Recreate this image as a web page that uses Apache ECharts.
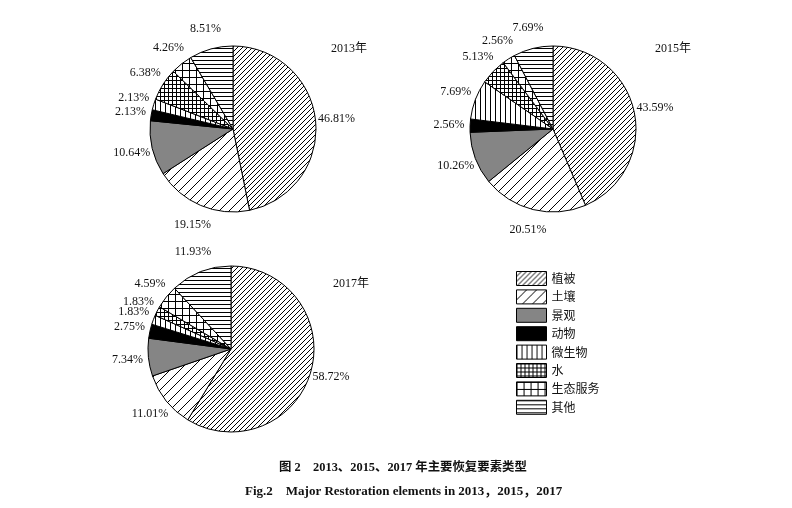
<!DOCTYPE html>
<html>
<head>
<meta charset="utf-8">
<script src="https://cdn.jsdelivr.net/npm/echarts@6/dist/echarts.min.js"></script>
<style>
  html, body { margin: 0; padding: 0; background: #fff; }
  #chart { width: 792px; height: 508px; }
</style>
</head>
<body>
<div id="chart"></div>
<script>
// Restoration element categories (clockwise from 12 o'clock)
const categories = ['植被', '土壤', '景观', '动物', '微生物', '水', '生态服务', '其他'];
// Share of each element, %
const values2013 = [46.81, 19.15, 10.64, 2.13, 2.13, 6.38, 4.26, 8.51];
const values2015 = [43.59, 20.51, 10.26, 2.56, 7.69, 5.13, 2.56, 7.69];
const values2017 = [58.72, 11.01, 7.34, 2.75, 1.83, 1.83, 4.59, 11.93];
const years = ['2013年', '2015年', '2017年'];

// ---- hatch fills drawn on small tiles ----
function tile(size, draw) {
  const c = document.createElement('canvas');
  c.width = size; c.height = size;
  const g = c.getContext('2d');
  g.fillStyle = '#fff';
  g.fillRect(0, 0, size, size);
  g.strokeStyle = '#000';
  g.lineWidth = 1;
  draw(g, size);
  return { image: c, repeat: 'repeat' };
}
function diag(g, s) {
  g.beginPath();
  g.moveTo(-1, s + 1); g.lineTo(s + 1, -1);
  g.moveTo(-1, 1); g.lineTo(1, -1);
  g.moveTo(s - 1, s + 1); g.lineTo(s + 1, s - 1);
  g.stroke();
}
function vert(g, s) {
  g.beginPath(); g.moveTo(0.5, 0); g.lineTo(0.5, s); g.stroke();
}
function horiz(g, s) {
  g.beginPath(); g.moveTo(0, 0.5); g.lineTo(s, 0.5); g.stroke();
}
function grid(g, s) { vert(g, s); horiz(g, s); }

const fills = [
  tile(5, diag),      // 植被
  tile(10, diag),     // 土壤
  '#858585',          // 景观
  '#000000',          // 动物
  tile(5, vert),      // 微生物
  tile(4, grid),      // 水
  tile(7, grid),      // 生态服务
  tile(4, horiz)      // 其他
];

const serif = '"Liberation Serif", "Times New Roman", "Noto Sans CJK SC", serif';
const centers = [[233, 129], [553, 129], [231, 349]];
const allValues = [values2013, values2015, values2017];
const pieRadius = 83;
const labelRadius = 101;

const series = [];
allValues.forEach((vals, k) => {
  // the pie itself
  series.push({
    type: 'pie',
    center: centers[k],
    radius: pieRadius,
    startAngle: 90,
    clockwise: true,
    animation: false,
    silent: true,
    itemStyle: { borderColor: '#000', borderWidth: 1 },
    label: { show: false },
    labelLine: { show: false },
    data: categories.map((name, i) => ({
      name: name, value: vals[i], itemStyle: { color: fills[i] }
    }))
  });
  // a hairline ring carrying the percentage labels, centred on each slice's mid-angle
  series.push({
    type: 'pie',
    center: centers[k],
    radius: [labelRadius - 1, labelRadius + 1],
    startAngle: 90,
    clockwise: true,
    animation: false,
    silent: true,
    avoidLabelOverlap: false,
    legendHoverLink: false,
    itemStyle: { color: 'rgba(0,0,0,0)', borderWidth: 0 },
    label: {
      show: true,
      position: 'inside',
      formatter: p => p.value.toFixed(2) + '%',
      fontFamily: serif,
      fontSize: 12,
      lineHeight: 9,
      color: '#111'
    },
    labelLayout: { hideOverlap: false },
    labelLine: { show: false },
    data: categories.map((name, i) => ({ name: name, value: vals[i] }))
  });
});

const yearStyle = { fontFamily: serif, fontSize: 12, fontWeight: 'normal', color: '#111' };

const chart = echarts.init(document.getElementById('chart'), null, { renderer: 'canvas' });
chart.setOption({
  backgroundColor: '#fff',
  animation: false,
  title: [
    { text: years[0], left: 331, top: 43, padding: 0, textStyle: yearStyle },
    { text: years[1], left: 655, top: 43, padding: 0, textStyle: yearStyle },
    { text: years[2], left: 333, top: 278, padding: 0, textStyle: yearStyle },
    { text: '图 2　2013、2015、2017 年主要恢复要素类型', left: 279, top: 462, padding: 0,
      textStyle: { fontFamily: serif, fontSize: 12.4, fontWeight: 'bold', color: '#111' } },
    { text: 'Fig.2　Major Restoration elements in 2013，2015，2017', left: 245, top: 485, padding: 0,
      textStyle: { fontFamily: serif, fontSize: 13, fontWeight: 'bold', color: '#111' } }
  ],
  legend: {
    orient: 'vertical',
    left: 516,
    top: 271,
    padding: 0,
    itemWidth: 30,
    itemHeight: 14,
    itemGap: 3.4,
    icon: 'rect',
    selectedMode: false,
    data: categories,
    itemStyle: { borderColor: '#000', borderWidth: 1 },
    textStyle: { fontFamily: '"Noto Sans CJK SC", serif', fontSize: 12, lineHeight: 14, color: '#111' }
  },
  series: series
});
</script>
</body>
</html>
